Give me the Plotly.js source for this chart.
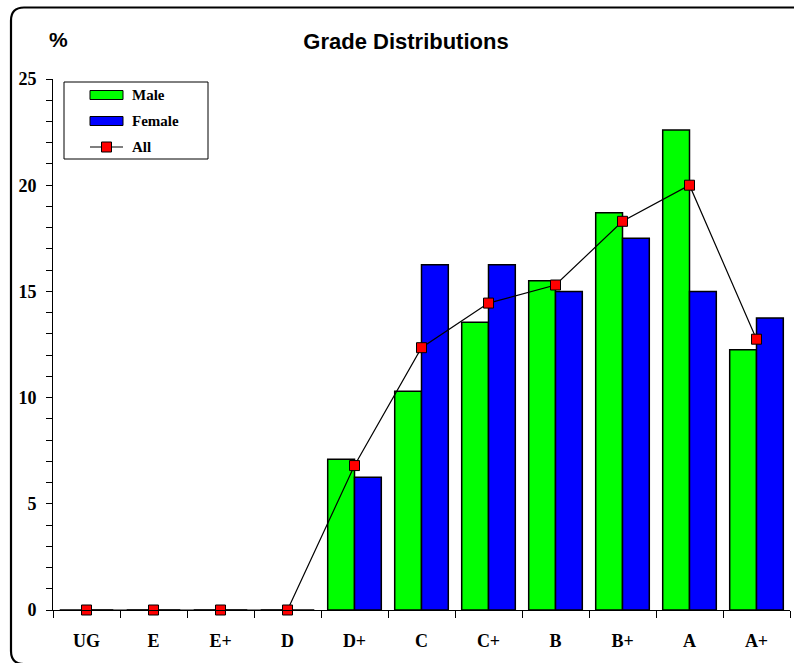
<!DOCTYPE html>
<html>
<head>
<meta charset="utf-8">
<script src="https://cdn.plot.ly/plotly-3.0.1.min.js"></script>
<style>html,body{margin:0;padding:0;background:#fff;}#chart{width:794px;height:663px;}</style>
</head>
<body>
<div id="chart"></div>
<script>
const grades = ["UG", "E", "E+", "D", "D+", "C", "C+", "B", "B+", "A", "A+"];
const maleValues = [0, 0, 0, 0, 7.1, 10.3, 13.55, 15.5, 18.7, 22.6, 12.25];
const femaleValues = [0, 0, 0, 0, 6.25, 16.25, 16.25, 15.0, 17.5, 15.0, 13.75];
const allValues = [0, 0, 0, 0, 6.8, 12.35, 14.45, 15.3, 18.3, 20.0, 12.75];
const seriesNames = ["Male", "Female", "All"];
const yTicks = [0, 5, 10, 15, 20, 25];

const serif = "Liberation Serif, Times New Roman, serif";
const sans = "Liberation Sans, Arial, Helvetica, sans-serif";

// plot area pixel geometry (for paper-coordinate decorations)
const W = 794, H = 663, mL = 53, mR = 4, mT = 79, mB = 53;
const pw = W - mL - mR, ph = H - mT - mB;
const px = x => (x - mL) / pw;
const py = y => (H - mB - y) / ph;

const traces = [
  {type: "bar", name: seriesNames[0], x: grades, y: maleValues,
   marker: {color: "#00ff00", line: {color: "#000", width: 1.5}}, showlegend: false},
  {type: "bar", name: seriesNames[1], x: grades, y: femaleValues,
   marker: {color: "#0000ff", line: {color: "#000", width: 1.5}}, showlegend: false},
  {type: "scatter", mode: "lines+markers", name: seriesNames[2], x: grades, y: allValues,
   cliponaxis: false,
   line: {color: "#000", width: 1.2},
   marker: {symbol: "square", size: 10, color: "#ff0000", line: {color: "#000", width: 1}},
   showlegend: false}
];

// rounded border (right and bottom edges fall outside the window)
const L = px(11), R = px(805), T = py(7.5), B = py(664);
const rx = 13 / pw, ry = 13 / ph;
const borderPath = `M ${L},${B + ry} L ${L},${T - ry} Q ${L},${T} ${L + rx},${T} L ${R},${T} L ${R},${B} L ${L + rx},${B} Q ${L},${B} ${L},${B + ry} Z`;

const shapes = [
  {type: "path", xref: "paper", yref: "paper", path: borderPath, line: {color: "#000", width: 2.2}},
  // legend box
  {type: "rect", xref: "paper", yref: "paper", x0: px(64), x1: px(208), y0: py(159), y1: py(82),
   line: {color: "#000", width: 1}, fillcolor: "#fff"},
  {type: "rect", xref: "paper", yref: "paper", x0: px(90), x1: px(123), y0: py(99.5), y1: py(90.5),
   line: {color: "#000", width: 1}, fillcolor: "#00ff00"},
  {type: "rect", xref: "paper", yref: "paper", x0: px(90), x1: px(123), y0: py(125.5), y1: py(116.5),
   line: {color: "#000", width: 1}, fillcolor: "#0000ff"},
  {type: "line", xref: "paper", yref: "paper", x0: px(90), x1: px(123), y0: py(147), y1: py(147),
   line: {color: "#000", width: 1.2}},
  {type: "rect", xref: "paper", yref: "paper", xsizemode: "pixel", ysizemode: "pixel",
   xanchor: px(106.5), yanchor: py(147), x0: -5, x1: 5, y0: -5, y1: 5,
   line: {color: "#000", width: 1}, fillcolor: "#ff0000"}
];

const annotations = [
  {xref: "paper", yref: "paper", x: px(58.5), y: py(40), text: "%", showarrow: false,
   xanchor: "center", yanchor: "middle", font: {family: sans, size: 21, color: "#000", weight: "bold"}},
  {xref: "paper", yref: "paper", x: px(130), y: py(95), text: seriesNames[0], showarrow: false,
   xanchor: "left", yanchor: "middle", font: {family: serif, size: 15, color: "#000", weight: "bold"}},
  {xref: "paper", yref: "paper", x: px(130), y: py(121), text: seriesNames[1], showarrow: false,
   xanchor: "left", yanchor: "middle", font: {family: serif, size: 15, color: "#000", weight: "bold"}},
  {xref: "paper", yref: "paper", x: px(130), y: py(147), text: seriesNames[2], showarrow: false,
   xanchor: "left", yanchor: "middle", font: {family: serif, size: 15, color: "#000", weight: "bold"}}
];

const boundaries = grades.map((g, i) => i - 0.5).concat([grades.length - 0.5]);

const layout = {
  width: W, height: H,
  margin: {l: mL, r: mR, t: mT, b: mB, pad: 0},
  paper_bgcolor: "#fff", plot_bgcolor: "#fff",
  title: {text: "Grade Distributions", x: 406 / W, xanchor: "center", y: 1 - 41 / H, yanchor: "middle",
          font: {family: sans, size: 22, color: "#000", weight: "bold"}},
  barmode: "group", bargap: 0.2, bargroupgap: 0,
  showlegend: false,
  xaxis: {type: "category", categoryorder: "array", categoryarray: grades,
          range: [-0.5, grades.length - 0.5], tickson: "boundaries",
          ticks: "outside", ticklen: 7, tickwidth: 1, tickcolor: "#000",
          showline: true, linecolor: "#000", linewidth: 1.3, showgrid: false, zeroline: false,
          ticklabelstandoff: 14,
          tickfont: {family: serif, size: 18, color: "#000", weight: "bold"}},
  xaxis2: {overlaying: "x", anchor: "y", type: "linear", range: [-0.5, grades.length - 0.5],
           tickmode: "array", tickvals: boundaries, ticks: "inside", ticklen: 7, tickwidth: 1,
           tickcolor: "#000", showticklabels: false, showline: false, showgrid: false, zeroline: false},
  yaxis: {range: [0, 25], tickmode: "array", tickvals: yTicks,
          ticks: "outside", ticklen: 6, tickwidth: 1, tickcolor: "#000",
          minor: {dtick: 1, ticks: "outside", ticklen: 6, tickwidth: 1, tickcolor: "#000", showgrid: false},
          showline: true, linecolor: "#000", linewidth: 1, showgrid: false, zeroline: false,
          ticklabelstandoff: 6,
          tickfont: {family: serif, size: 18, color: "#000", weight: "bold"}},
  yaxis2: {overlaying: "y", anchor: "x", side: "left", range: [0, 25], tickmode: "array", tickvals: yTicks,
           ticks: "inside", ticklen: 6, tickwidth: 1, tickcolor: "#000",
           showticklabels: false, showline: false, showgrid: false, zeroline: false},
  shapes: shapes,
  annotations: annotations
};

Plotly.newPlot("chart", traces, layout, {displayModeBar: false, staticPlot: true});
</script>
</body>
</html>
